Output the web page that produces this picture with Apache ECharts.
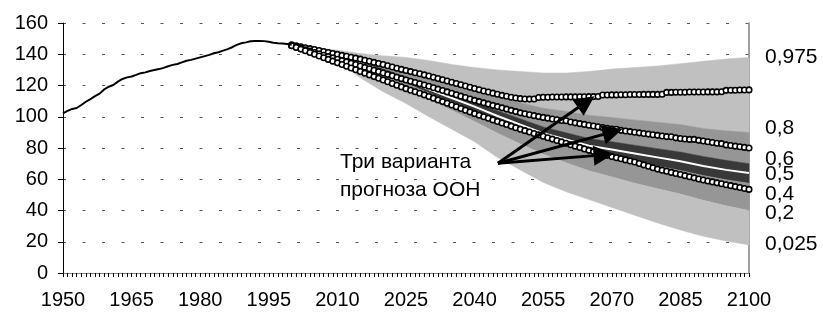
<!DOCTYPE html>
<html><head><meta charset="utf-8">
<script src="https://cdn.jsdelivr.net/npm/echarts@6/dist/echarts.min.js"></script>
<style>html,body{margin:0;padding:0;background:#fff}#c{width:823px;height:313px}</style>
</head><body><div id="c"></div>
<script>
// Historical population (millions), 1950-2000
const histYears = [1950,1951,1952,1953,1954,1955,1956,1957,1958,1959,1960,1961,1962,1963,1964,1965,1966,1967,1968,1969,1970,1971,1972,1973,1974,1975,1976,1977,1978,1979,1980,1981,1982,1983,1984,1985,1986,1987,1988,1989,1990,1991,1992,1993,1994,1995,1996,1997,1998,1999,2000];
const histValues = [102.2,103.8,105.0,105.6,107.5,109.6,111.3,113.2,114.8,117.5,119.2,120.3,122.5,124.2,125.2,125.8,126.8,127.9,128.4,129.3,129.9,130.5,131.3,132.3,133.2,133.8,134.8,135.8,136.4,137.2,138.0,138.8,139.6,140.6,141.3,142.3,143.3,144.5,146.0,147.0,147.6,148.3,148.5,148.5,148.4,148.0,147.3,147.0,146.9,146.5,146.0];

// UN variants, yearly 2000-2100
const variantYears = Array.from({length:101}, (_, i) => 2000 + i);
const unHigh = [146.0,145.4,144.8,144.2,143.6,143.0,142.4,141.8,141.1,140.5,139.9,139.3,138.7,138.1,137.5,136.9,136.2,135.5,134.8,134.1,133.4,132.6,131.8,131.0,130.3,129.6,128.9,128.2,127.5,126.8,126.1,125.3,124.5,123.7,122.9,122.1,121.3,120.5,119.7,118.9,118.1,117.3,116.5,115.8,115.1,114.4,113.7,113.1,112.5,112.0,111.6,111.4,111.3,111.4,112.3,112.5,112.5,112.6,112.6,112.6,112.7,112.7,112.7,112.8,112.8,112.9,112.9,113.0,113.9,113.9,114.0,114.0,114.1,114.1,114.2,114.2,114.2,114.3,114.3,114.3,114.3,114.4,115.6,115.6,115.7,115.7,115.7,115.8,115.8,115.8,115.8,115.9,115.9,115.9,116.0,116.9,117.0,117.0,117.1,117.1,117.2];
const unMedium = [145.6,144.7,143.8,142.9,142.0,141.1,140.3,139.4,138.5,137.7,136.8,135.9,135.1,134.2,133.4,132.5,131.6,130.7,129.8,128.9,128.0,127.1,126.2,125.3,124.4,123.5,122.7,121.9,121.1,120.3,119.5,118.6,117.7,116.8,115.9,115.0,114.1,113.2,112.3,111.4,110.5,109.7,108.9,108.1,107.3,106.5,105.7,104.9,104.1,103.3,102.5,101.9,101.3,100.7,100.1,99.6,99.1,98.6,98.1,97.6,97.4,96.6,96.1,95.6,95.1,94.6,94.1,93.6,93.1,92.6,92.1,92.0,91.3,90.9,90.5,90.1,89.7,89.3,88.9,88.5,88.1,87.7,87.3,87.2,86.5,86.1,85.8,85.5,85.5,84.9,84.5,84.0,83.5,83.0,82.8,82.0,81.6,81.2,80.8,80.4,80.0];
const unLow = [145.5,144.4,143.3,142.2,141.1,140.0,138.9,137.8,136.7,135.6,134.5,133.4,132.3,131.2,130.1,129.0,127.9,126.8,125.7,124.6,123.5,122.4,121.3,120.2,119.1,118.0,117.0,116.0,115.0,114.0,113.0,111.9,110.8,109.7,108.6,107.5,106.4,105.3,104.2,103.1,102.0,101.0,100.0,99.0,98.0,97.0,96.0,95.0,94.0,93.0,92.0,91.1,90.2,89.3,88.4,87.5,86.6,85.7,84.8,83.9,83.0,82.1,81.2,80.3,79.4,78.5,77.7,76.9,76.1,75.3,74.5,73.8,73.1,72.4,71.7,71.0,70.1,69.2,68.3,67.4,66.5,65.8,65.1,64.4,63.7,63.0,62.3,61.6,60.9,60.2,59.5,58.9,58.3,57.7,57.1,56.5,55.9,55.3,54.7,54.1,53.5];

// Probabilistic forecast quantiles
const fanYears = [2000,2005,2010,2015,2020,2025,2030,2035,2040,2045,2050,2055,2060,2065,2070,2075,2080,2085,2090,2095,2100];
const q975 = [146,144.5,142.5,140.5,139,138,136,133.5,131.5,130,129,128,128,129,130.5,131.5,132.5,134,135.5,137,138];
const q80  = [146,144,140.5,137.5,134,129.5,125,121,117,112.5,109,105.5,103.5,101,99.5,98,96.5,95,92.5,91,90];
const q60  = [146,143.3,140.2,135.5,130.5,125.5,119.8,114.7,109.5,103.8,98.7,93.5,89.8,86.1,84,81.8,79.6,77.4,74.6,72.1,70];
const q50  = [146,143,139.5,134.5,129,123.5,117.5,112,106.5,100.5,95,89.5,85.5,81.5,79,76.5,74,71.5,68.5,66,64];
const q40  = [146,142.7,138.8,133.5,127.5,121.5,115.2,109.3,103.5,97.2,91.3,85.5,81.2,76.9,74,71.2,68.4,65.6,62.4,59.7,57.5];
const q20  = [146,142,137.5,131,124.5,118,111,104,97,89.5,82.5,76,70.5,65.5,61.5,57.5,54,50.5,46.5,43,40];
const q025 = [146,142,136,125,116,108.5,100,92,84,74,66,58,52,47,42,37,32,27.5,23.5,20.5,18];

const quantileLabels = ['0,975','0,8','0,6','0,5','0,4','0,2','0,025'];
const quantileLabelValues = [138.1,92.6,72.8,63.2,50.4,38.2,18.4];
const noteLines = ['Три варианта','прогноза ООН'];

// arrows: origin and targets [year, value]
const arrowFrom = [2045.1, 70.2];
const arrowTo = [[2064.4, 109.5],[2070.2, 90.3],[2068.2, 75.6]];

const FONT = 'Liberation Sans, Arial, sans-serif';
const pairs = (xs, ys) => xs.map((x, i) => [x, ys[i]]);

const LIGHT = '#c0c0c0', MID = '#969696', DARK = '#383838';
const bands = [
  [q975, q80, LIGHT],
  [q80, q60, MID],
  [q60, q40, DARK],
  [q40, q20, MID],
  [q20, q025, LIGHT]
];

const chart = echarts.init(document.getElementById('c'), null, {renderer:'canvas'});
chart.setOption({
  animation:false,
  grid:{left:63, right:74, top:23, bottom:40, containLabel:false},
  xAxis:[{
    type:'value', min:1950, max:2100, interval:15,
    axisLine:{show:true, lineStyle:{color:'#000', width:1}},
    axisTick:{show:true, length:4, lineStyle:{color:'#000'}},
    minorTick:{show:true, splitNumber:15, length:4, lineStyle:{color:'#000'}},
    axisLabel:{fontSize:20, color:'#000', margin:17, fontFamily:FONT, formatter:v => String(v)},
    splitLine:{show:false}
  },{
    type:'value', position:'top', min:1950, max:2100,
    axisLine:{show:true, lineStyle:{color:'#808080', width:1}},
    axisTick:{show:false}, axisLabel:{show:false}, splitLine:{show:false}
  }],
  yAxis:[{
    type:'value', min:0, max:160, interval:20,
    axisLine:{show:true, lineStyle:{color:'#000', width:1}},
    axisTick:{show:true, length:5, lineStyle:{color:'#000'}},
    axisLabel:{fontSize:20, color:'#000', margin:15, fontFamily:FONT, formatter:v => String(v)},
    splitLine:{show:true, lineStyle:{type:[3,16.5], color:'#555', width:1}}
  },{
    type:'value', position:'right', min:0, max:160,
    axisLine:{show:true, lineStyle:{color:'#808080', width:1.5}},
    axisTick:{show:false}, axisLabel:{show:false}, splitLine:{show:false}
  }],
  series:[
    {name:'fan', type:'custom', z:2, silent:true,
      data: bands.map((b, i) => [i]),
      encode:{x:-1, y:-1},
      renderItem:(params, api) => {
        const [up, lo, color] = bands[params.dataIndex];
        const pts = fanYears.map((x, i) => api.coord([x, up[i]]))
          .concat(fanYears.map((x, i) => api.coord([x, lo[i]])).reverse());
        return {type:'polygon', shape:{points:pts}, style:{fill:color, stroke:color, lineWidth:0.5}};
      }
    },
    {name:'median', type:'line', data:pairs(fanYears, q50), symbol:'none', z:3,
      lineStyle:{color:'#fff', width:2}},
    ...[unHigh, unMedium, unLow].map((v, k) => ({
      name:'un'+k, type:'line', data:pairs(variantYears, v), z:4,
      symbol:'circle', symbolSize:5.5, showAllSymbol:true,
      itemStyle:{color:'#fff', borderColor:'#000', borderWidth:1.6},
      lineStyle:{color:'#000', width:1}
    })),
    {name:'hist', type:'line', data:pairs(histYears, histValues), symbol:'none', z:5,
      lineStyle:{color:'#000', width:2},
      markLine:{silent:true, symbol:['none','triangle'], symbolSize:20, z:6,
        label:{show:false}, emphasis:{disabled:true},
        lineStyle:{color:'#000', width:3, type:'solid'},
        data: arrowTo.map(t => [{coord:arrowFrom}, {coord:t}])}
    }
  ]
});

const graphics = [];
quantileLabels.forEach((t, i) => {
  const p = chart.convertToPixel({gridIndex:0}, [2100, quantileLabelValues[i]]);
  graphics.push({type:'text', left:765, top:p[1]-11, silent:true,
    style:{text:t, fontSize:21, fontFamily:FONT, fill:'#000'}});
});
noteLines.forEach((t, i) => {
  graphics.push({type:'text', left:340, top:152 + i*28, silent:true,
    style:{text:t, fontSize:21, fontFamily:FONT, fill:'#000'}});
});
chart.setOption({graphic:graphics});
</script></body></html>
